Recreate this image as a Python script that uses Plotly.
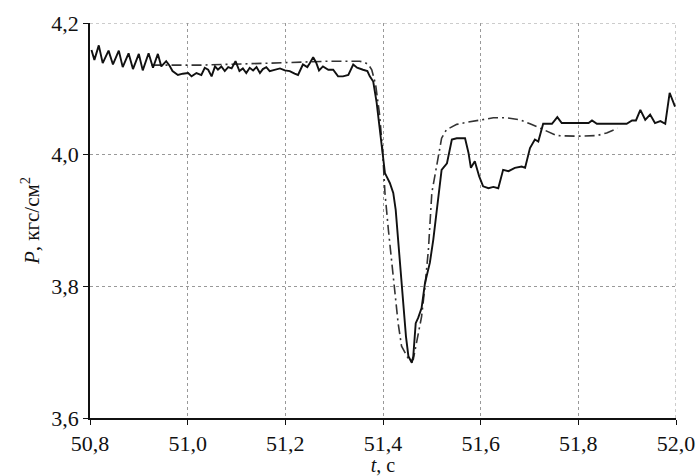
import plotly.graph_objects as go

# Measured pressure (solid line)
t_meas = [50.803, 50.809, 50.818, 50.826, 50.838, 50.847, 50.859, 50.867, 50.879, 50.888,
          50.900, 50.908, 50.920, 50.929, 50.939, 50.946, 50.956, 50.963, 50.969, 50.980,
          50.990, 51.001, 51.008, 51.018, 51.028, 51.035, 51.042, 51.049, 51.056, 51.062,
          51.069, 51.076, 51.083, 51.090, 51.098, 51.106, 51.113, 51.120, 51.127, 51.134,
          51.141, 51.148, 51.154, 51.161, 51.168, 51.178, 51.189, 51.199, 51.209, 51.219,
          51.226, 51.236, 51.245, 51.250, 51.257, 51.263, 51.269, 51.277, 51.288, 51.298,
          51.308, 51.318, 51.329, 51.339, 51.347, 51.359, 51.368, 51.373, 51.380, 51.387,
          51.393, 51.399, 51.404, 51.414, 51.421, 51.426, 51.431, 51.435, 51.441, 51.447,
          51.452, 51.459, 51.462, 51.467, 51.472, 51.479, 51.486, 51.496, 51.503, 51.509,
          51.513, 51.520, 51.531, 51.541, 51.551, 51.568, 51.575, 51.580, 51.588, 51.597,
          51.605, 51.616, 51.626, 51.636, 51.646, 51.657, 51.670, 51.684, 51.691, 51.701,
          51.711, 51.718, 51.728, 51.746, 51.757, 51.766, 51.821, 51.828, 51.838, 51.899,
          51.910, 51.918, 51.927, 51.937, 51.947, 51.957, 51.968, 51.978, 51.987, 51.998]
p_meas = [4.159, 4.144, 4.166, 4.139, 4.158, 4.137, 4.158, 4.133, 4.154, 4.130,
          4.153, 4.128, 4.154, 4.132, 4.153, 4.134, 4.142, 4.135, 4.127, 4.121,
          4.123, 4.124, 4.119, 4.124, 4.121, 4.132, 4.129, 4.119, 4.134, 4.129,
          4.134, 4.127, 4.133, 4.131, 4.142, 4.127, 4.131, 4.124, 4.132, 4.128,
          4.133, 4.124, 4.130, 4.133, 4.127, 4.129, 4.131, 4.128, 4.127, 4.123,
          4.121, 4.137, 4.133, 4.139, 4.148, 4.140, 4.128, 4.134, 4.129, 4.129,
          4.119, 4.119, 4.121, 4.137, 4.132, 4.129, 4.127, 4.119, 4.111, 4.079,
          4.043, 4.003, 3.972, 3.957, 3.942, 3.916, 3.871, 3.836, 3.775, 3.724,
          3.694, 3.684, 3.694, 3.744, 3.752, 3.767, 3.805, 3.836, 3.871, 3.909,
          3.932, 3.977, 3.987, 4.023, 4.025, 4.025, 4.003, 3.980, 3.990, 3.967,
          3.952, 3.949, 3.951, 3.949, 3.977, 3.975, 3.980, 3.982, 3.980, 4.010,
          4.023, 4.020, 4.047, 4.047, 4.057, 4.048, 4.048, 4.052, 4.047, 4.047,
          4.052, 4.052, 4.068, 4.053, 4.061, 4.048, 4.051, 4.047, 4.094, 4.073]

# Calculated pressure (dash-dot line)
t_calc = [50.926, 51.025, 51.168, 51.291, 51.352, 51.363, 51.370, 51.377, 51.385, 51.393,
          51.399, 51.404, 51.411, 51.418, 51.425, 51.431, 51.438, 51.448, 51.455, 51.462,
          51.469, 51.479, 51.486, 51.493, 51.500, 51.510, 51.517, 51.520, 51.530, 51.551,
          51.571, 51.598, 51.626, 51.653, 51.681, 51.701, 51.722, 51.742, 51.756, 51.797,
          51.838, 51.858, 51.880]
p_calc = [4.136, 4.136, 4.139, 4.142, 4.142, 4.140, 4.137, 4.129, 4.106, 4.061,
          4.008, 3.942, 3.886, 3.836, 3.785, 3.744, 3.709, 3.694, 3.686, 3.689,
          3.714, 3.754, 3.800, 3.856, 3.942, 3.987, 4.018, 4.025, 4.038, 4.046,
          4.049, 4.052, 4.056, 4.056, 4.053, 4.047, 4.040, 4.033, 4.029, 4.028,
          4.029, 4.033, 4.040]

x_ticks = [50.8, 51.0, 51.2, 51.4, 51.6, 51.8, 52.0]
y_ticks = [3.6, 3.8, 4.0, 4.2]

fig = go.Figure()
fig.add_trace(go.Scatter(x=t_calc, y=p_calc, mode="lines",
                         line=dict(color="#333333", width=1.6, dash="10px,4px,2px,4px")))
fig.add_trace(go.Scatter(x=t_meas, y=p_meas, mode="lines",
                         line=dict(color="#111111", width=1.9)))

grid = dict(color="#999999", width=1, dash="dot")
# edge gridlines (right and top) that Plotly does not draw on the frame
fig.add_shape(type="line", xref="x", yref="paper", x0=x_ticks[-1], x1=x_ticks[-1],
              y0=0, y1=1, line=grid, layer="below")
fig.add_shape(type="line", xref="paper", yref="y", x0=0, x1=1,
              y0=y_ticks[-1], y1=y_ticks[-1], line=grid, layer="below")

font = "Liberation Serif, Times New Roman, serif"
fig.update_layout(
    width=696, height=476,
    margin=dict(l=90, r=20, t=23, b=58),
    paper_bgcolor="white", plot_bgcolor="white",
    showlegend=False,
    separators=", ",
    font=dict(family=font, size=22, color="#111111"),
)
fig.update_xaxes(
    range=[50.8, 52.0], tickvals=x_ticks, tickformat=".1f",
    automargin=False, ticklabeloverflow="allow",
    showline=True, linecolor="#111111", linewidth=1.5,
    ticks="outside", ticklen=5, tickwidth=1.2, tickcolor="#111111",
    showgrid=True, gridcolor="#999999", gridwidth=1, griddash="dot",
    zeroline=False,
    title=dict(text="<i>t</i>, с", standoff=6, font=dict(size=20)),
)
fig.update_yaxes(
    range=[3.6, 4.2], tickvals=y_ticks, tickformat=".1f",
    automargin=False, ticklabeloverflow="allow",
    showline=True, linecolor="#111111", linewidth=1.5,
    ticks="outside", ticklen=5, tickwidth=1.2, tickcolor="#111111",
    showgrid=True, gridcolor="#999999", gridwidth=1, griddash="dot",
    zeroline=False,
    title=dict(text="<i>P</i>, кгс/см<sup>2</sup>", standoff=6, font=dict(size=21)),
)

fig.write_html("out.html")
